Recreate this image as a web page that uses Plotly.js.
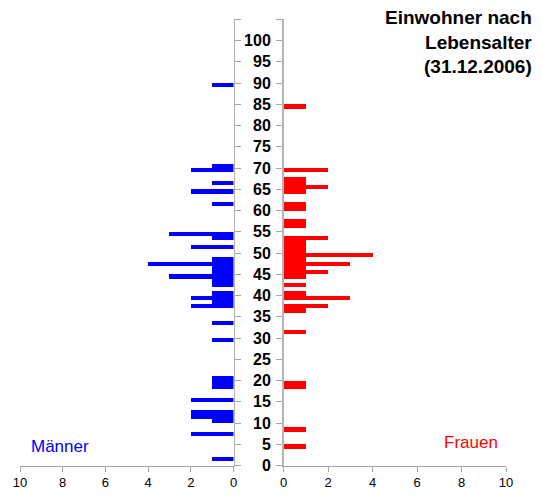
<!DOCTYPE html>
<html>
<head>
<meta charset="utf-8">
<script src="https://cdn.plot.ly/plotly-3.0.1.min.js"></script>
<style>html,body{margin:0;padding:0;background:#fff}#chart{width:541px;height:500px}</style>
</head>
<body>
<div id="chart"></div>
<script>
// Alter (Männer)
const agesMen = [1, 7, 10, 11, 12, 15, 18, 19, 20, 29, 33, 37, 38, 39, 40, 42, 43, 44, 45, 46, 47, 48, 51, 53, 54, 61, 64, 66, 69, 70, 89];
const countMen = [1, 2, 1, 2, 2, 2, 1, 1, 1, 1, 1, 2, 1, 2, 1, 1, 1, 3, 1, 1, 4, 1, 2, 1, 3, 1, 2, 1, 2, 1, 1];
// Alter (Frauen)
const agesWomen = [4, 8, 18, 19, 31, 36, 37, 39, 40, 42, 44, 45, 46, 47, 48, 49, 50, 51, 52, 53, 56, 57, 60, 61, 64, 65, 66, 67, 69, 84];
const countWomen = [1, 1, 1, 1, 1, 1, 2, 3, 1, 1, 1, 2, 1, 3, 1, 4, 1, 1, 1, 2, 1, 1, 1, 1, 1, 2, 1, 1, 2, 1];
const yTickVals = [0, 5, 10, 15, 20, 25, 30, 35, 40, 45, 50, 55, 60, 65, 70, 75, 80, 85, 90, 95, 100, 105];
const yTickText = ["0", "5", "10", "15", "20", "25", "30", "35", "40", "45", "50", "55", "60", "65", "70", "75", "80", "85", "90", "95", "100", ""];
const xTickVals = [0, 2, 4, 6, 8, 10];
const titleText = "Einwohner nach<br>Lebensalter<br>(31.12.2006)";

const FONT = "Liberation Sans Narrow, Arial Narrow, Liberation Sans, Arial, sans-serif";
const W = 541, H = 500;
const yDom = [1 - 465.5 / H, 1 - 19.3 / H];

const traces = [
  {type: 'bar', orientation: 'h', y: agesMen, x: countMen, width: 1, offset: 0,
   marker: {color: '#0000ff', line: {width: 0}}, xaxis: 'x', yaxis: 'y', hoverinfo: 'skip'},
  {type: 'bar', orientation: 'h', y: agesWomen, x: countWomen, width: 1, offset: 0,
   marker: {color: '#ff0000', line: {width: 0}}, xaxis: 'x2', yaxis: 'y2', hoverinfo: 'skip'}
];

const xCommon = {
  tickvals: xTickVals, showgrid: false, zeroline: false, showline: true,
  linecolor: '#a6a6a6', linewidth: 1, ticks: 'outside', ticklen: 5, tickcolor: '#a6a6a6',
  tickfont: {family: FONT, size: 13, color: '#000'}, fixedrange: true
};
const yCommon = {
  range: [0, 105], tickvals: yTickVals, ticktext: yTickText, showgrid: false, zeroline: false,
  showline: true, linecolor: '#b4b4b4', linewidth: 1.5, ticks: 'outside', ticklen: 6,
  tickcolor: '#a6a6a6', domain: yDom, fixedrange: true
};

const layout = {
  width: W, height: H,
  margin: {l: 0, r: 0, t: 0, b: 0},
  paper_bgcolor: '#fff', plot_bgcolor: 'rgba(0,0,0,0)',
  showlegend: false, hovermode: false, bargap: 0,
  xaxis: Object.assign({}, xCommon, {domain: [20 / W, 233.5 / W], range: [10, 0], anchor: 'y'}),
  xaxis2: Object.assign({}, xCommon, {domain: [283.5 / W, 506 / W], range: [0, 10], anchor: 'y2'}),
  yaxis: Object.assign({}, yCommon, {anchor: 'x', side: 'right', showticklabels: false}),
  yaxis2: Object.assign({}, yCommon, {anchor: 'x2', side: 'left', showticklabels: true,
          tickfont: {family: FONT, size: 16, color: '#000', weight: 'bold'}, ticklabelstandoff: 2}),
  annotations: [
    {text: titleText, xref: 'paper', yref: 'paper', x: 534 / W, y: 1 - 5 / H, xanchor: 'right', yanchor: 'top',
     align: 'right', showarrow: false, font: {family: FONT, size: 19, color: '#000', weight: 'bold'}},
    {text: 'Männer', xref: 'paper', yref: 'paper', x: 29 / W, y: 1 - 446 / H, xanchor: 'left', yanchor: 'middle',
     showarrow: false, font: {family: FONT, size: 17, color: '#0000ff'}},
    {text: 'Frauen', xref: 'paper', yref: 'paper', x: 500 / W, y: 1 - 442 / H, xanchor: 'right', yanchor: 'middle',
     showarrow: false, font: {family: FONT, size: 17, color: '#ff0000'}}
  ]
};

Plotly.newPlot('chart', traces, layout, {staticPlot: true, displayModeBar: false});
</script>
</body>
</html>
